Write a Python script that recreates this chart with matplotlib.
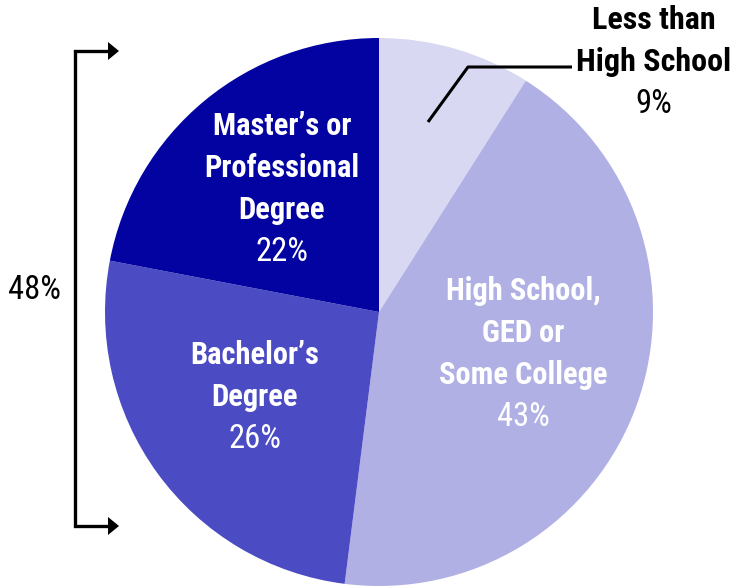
import matplotlib
matplotlib.use('Agg')
import matplotlib.pyplot as plt
from matplotlib import font_manager
from matplotlib.patches import Polygon

# data (clockwise from 12 o'clock)
labels = ['Less than\nHigh School', 'High School,\nGED or\nSome College',
          "Bachelor\u2019s\nDegree", "Master\u2019s or\nProfessional\nDegree"]
values = [9, 43, 26, 22]
colors = ['#d8d8f2', '#b0b0e4', '#4b4bc4', '#0303a2']
bracket_value = values[2] + values[3]

W, H = 735, 588

# pick a narrow face if one is there
have = {f.name for f in font_manager.fontManager.ttflist}
fam, fs = ['DejaVu Sans'], 17
for name, size in [('Roboto Condensed', 22), ('Liberation Sans Narrow', 22),
                   ('DejaVu Sans Condensed', 19), ('Roboto', 19)]:
    if name in have:
        fam, fs = [name, 'DejaVu Sans'], size
        break
fs_pct = fs + 1.5

fig = plt.figure(figsize=(W / 100, H / 100), dpi=100)
ax = fig.add_axes([0, 0, 1, 1])

cx, cy, r = 379, H - 312, 274
ax.pie(values, colors=colors, startangle=90, counterclock=False,
       center=(cx, cy), radius=r, frame=True,
       wedgeprops=dict(linewidth=0))
ax.set_xlim(0, W)
ax.set_ylim(0, H)
ax.set_aspect('equal')
ax.axis('off')


def put(x, y, name, pct, color, step=42, size=None):
    # y in pixel rows from the top
    size = size or fs
    lines = name.split('\n')
    for i, s in enumerate(lines):
        ax.text(x, H - (y + i * step), s, ha='center', va='center',
                fontsize=size, fontweight='bold', color=color, family=fam)
    ax.text(x, H - (y + len(lines) * step), '%d%%' % pct, ha='center',
            va='center', fontsize=fs_pct, color=color, family=fam)


put(654, 20, labels[0], values[0], 'black', size=fs + 1)
put(523, 291, labels[1], values[1], 'white')
put(255, 355, labels[2], values[2], 'white')
put(282, 126, labels[3], values[3], 'white')

# leader line for the small slice
ax.plot([428, 468, 572], [H - 122, H - 67, H - 67], color='black', lw=2.2,
        solid_capstyle='butt')

# bracket on the left
ax.plot([110, 75, 75, 110], [H - 51, H - 51, H - 526, H - 526],
        color='black', lw=2.4, solid_joinstyle='miter')
for yy in (51, 526):
    ax.add_patch(Polygon([[108, H - yy - 9], [108, H - yy + 9], [119, H - yy]],
                         closed=True, color='black', lw=0))
ax.text(35, H - 290, '%d%%' % bracket_value, ha='center', va='center',
        fontsize=fs_pct, color='black', family=fam)

fig.savefig('out.png', dpi=100)
